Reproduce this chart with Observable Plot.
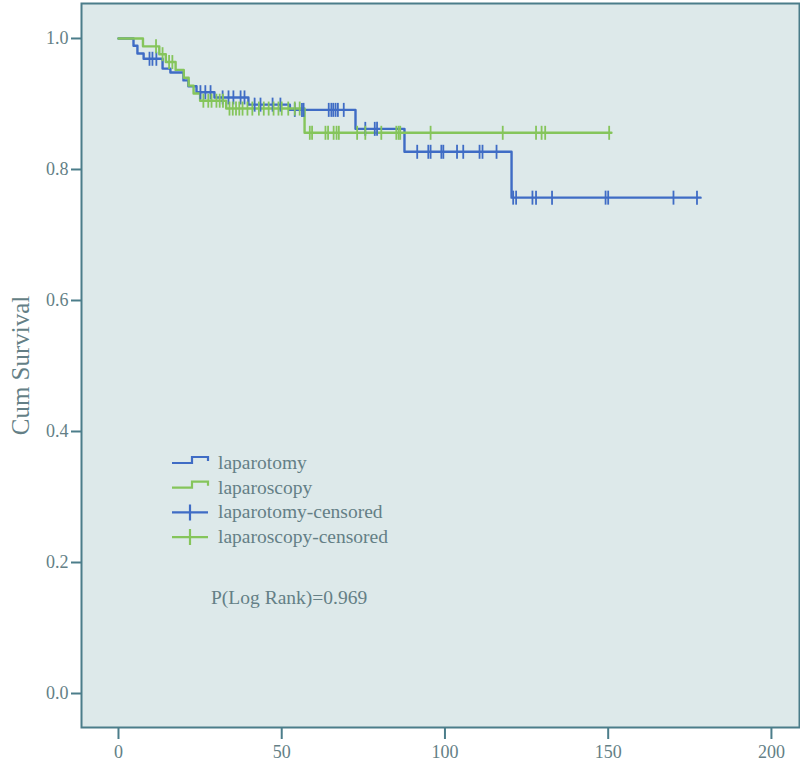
<!DOCTYPE html>
<html>
<head>
<meta charset="utf-8">
<script src="https://cdn.jsdelivr.net/npm/d3@7"></script>
<script src="https://cdn.jsdelivr.net/npm/@observablehq/plot@0.6"></script>
<style>
  html, body { margin: 0; padding: 0; background: #ffffff; }
  #wrap { position: relative; width: 800px; height: 762px; }
  #overlay { position: absolute; left: 0; top: 0; pointer-events: none; }
</style>
</head>
<body>
<div id="wrap"></div>
<script>
// ---- Data ----
const groups = ["laparotomy", "laparoscopy"];

// laparotomy: step times (months) and cumulative survival after each step
const lapStepTimes = [0, 4.6, 5.8, 7.7, 13.5, 15.9, 19.9, 21.4, 23.9, 29.4, 39.8, 52.5, 72.6, 87.6, 120.4, 178.3];
const lapStepSurv  = [1.0, 0.989, 0.977, 0.969, 0.954, 0.948, 0.936, 0.927, 0.918, 0.910, 0.899, 0.891, 0.862, 0.827, 0.757, 0.757];
const lapCensor = [9.5, 10.4, 11.6, 25.1, 26.6, 28.2, 31.9, 33.7, 35.2, 37.4, 38.6, 41.7, 43.5, 47.2, 49.6,
  54.0, 56.2, 56.7, 64.4, 65.2, 65.8, 66.5, 67.2, 69.0, 75.6, 78.5, 79.2,
  91.5, 94.9, 95.6, 98.9, 99.5, 103.7, 105.6, 110.6, 111.5, 115.8,
  120.9, 121.8, 126.8, 127.9, 132.8, 149.2, 150.0, 170.0, 177.2];

// laparoscopy
const lscStepTimes = [0, 7.5, 12.5, 14.5, 17.5, 20.0, 21.5, 23.0, 25.0, 33.0, 57.0, 151.0];
const lscStepSurv  = [1.0, 0.988, 0.976, 0.964, 0.952, 0.940, 0.928, 0.916, 0.905, 0.893, 0.856, 0.856];
const lscCensor = [11.5, 13.5, 15.5, 16.5, 26, 27.5, 28.5, 30, 31, 32, 34, 35, 36, 37, 38, 39.5, 41, 43, 44.5,
  46, 47.5, 49, 50, 52, 54, 55.5, 58.6, 59.3, 63.4, 64.2, 65.9, 66.8, 67.5, 73.1, 75.6, 80.5,
  85.1, 85.8, 86.3, 95.6, 117.7, 127.9, 129.6, 130.7, 150.3];

const xTicks = [0, 50, 100, 150, 200];
const yTicks = [0, 0.2, 0.4, 0.6, 0.8, 1.0];
const pText = "P(Log Rank)=0.969";

// ---- Build tables ----
const colors = {laparotomy: "#3f6cc5", laparoscopy: "#85c55b"};
const series = [
  {g: "laparotomy", t: lapStepTimes, s: lapStepSurv, c: lapCensor},
  {g: "laparoscopy", t: lscStepTimes, s: lscStepSurv, c: lscCensor}
];
const lineData = [];
const censorData = [];
for (const se of series) {
  se.t.forEach((t, i) => lineData.push({group: se.g, time: t, surv: se.s[i]}));
  for (const ct of se.c) {
    let s = se.s[0];
    for (let i = 0; i < se.t.length; i++) if (se.t[i] <= ct) s = se.s[i];
    censorData.push({group: se.g, time: ct, surv: s});
  }
}

const vbar = {
  draw(ctx, size) {
    const r = Math.sqrt(size / Math.PI);
    ctx.moveTo(0, -r);
    ctx.lineTo(0, r);
  }
};

const axisColor = "#4b7d8a";
const textColor = "#647f86";

const chart = Plot.plot({
  width: 800,
  height: 762,
  marginLeft: 81,
  marginRight: 1,
  marginTop: 3,
  marginBottom: 35,
  style: {fontFamily: "'Liberation Serif', 'Times New Roman', serif", background: "#ffffff"},
  x: {domain: [-11.33, 208.6]},
  y: {domain: [-0.0519, 1.0534]},
  color: {domain: groups, range: groups.map(g => colors[g])},
  marks: [
    Plot.frame({fill: "#dde9ea", stroke: null}),
    Plot.line(lineData, {x: "time", y: "surv", z: "group", stroke: d => colors[d.group], curve: "step-after", strokeWidth: 2.4}),
    Plot.dot(censorData, {x: "time", y: "surv", symbol: vbar, r: 7, fill: "none", stroke: d => colors[d.group], strokeWidth: 1.8}),
    Plot.frame({stroke: axisColor, strokeWidth: 2}),
    Plot.axisY({ticks: yTicks, tickFormat: d3.format(".1f"), tickSize: 10, tickPadding: 3, fontSize: 18,
      stroke: axisColor, strokeWidth: 2, color: textColor,
      label: "Cum Survival", labelAnchor: "center", labelArrow: "none", labelOffset: 70}),
    Plot.axisX({ticks: xTicks, tickSize: 12, tickPadding: 6, fontSize: 18,
      stroke: axisColor, strokeWidth: 2, color: textColor, label: null})
  ]
});
d3.select(chart).selectAll("g[aria-label='y-axis label'] text").style("font-size", "25px").attr("fill", textColor);
document.getElementById("wrap").appendChild(chart);

// ---- Legend overlay ----
const ov = d3.select("#wrap").append("svg").attr("id", "overlay").attr("width", 800).attr("height", 762)
  .style("font-family", "'Liberation Serif', 'Times New Roman', serif");
const legendItems = [
  {label: "laparotomy", color: colors.laparotomy, kind: "line"},
  {label: "laparoscopy", color: colors.laparoscopy, kind: "line"},
  {label: "laparotomy-censored", color: colors.laparotomy, kind: "censor"},
  {label: "laparoscopy-censored", color: colors.laparoscopy, kind: "censor"}
];
legendItems.forEach((it, i) => {
  const y = 463 + i * 24.7;
  const g = ov.append("g");
  if (it.kind === "line") {
    g.append("path").attr("d", `M172,${y}H192V${y-6}H208V${y-2}`).attr("fill", "none")
      .attr("stroke", it.color).attr("stroke-width", 2.2);
  } else {
    g.append("path").attr("d", `M172,${y}H208M190,${y-8}V${y+8}`).attr("fill", "none")
      .attr("stroke", it.color).attr("stroke-width", 2.2);
  }
  g.append("text").attr("x", 218).attr("y", y + 6).attr("font-size", 19.5).attr("fill", textColor).text(it.label);
});
ov.append("text").attr("x", 211).attr("y", 604).attr("font-size", 19.5).attr("fill", textColor).text(pText);
</script>
</body>
</html>
